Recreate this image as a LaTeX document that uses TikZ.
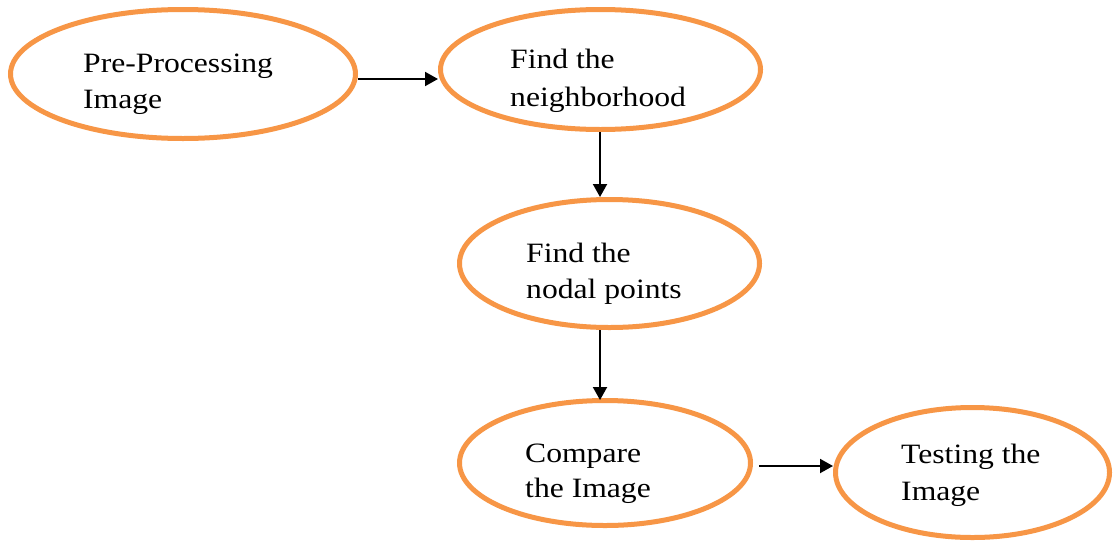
\documentclass[tikz,border=0pt]{standalone}
\usepackage{fontspec}
\usetikzlibrary{shapes.geometric,arrows.meta}
\newfontfamily\stagefont{Liberation Serif}[FakeStretch=1.13]
\definecolor{stageorange}{RGB}{247,150,70}
\begin{document}
\begin{tikzpicture}[x=1pt,y=-1pt,
  stage/.style={ellipse,draw=stageorange,line width=5pt,inner sep=0pt,fill=white},
  stagetext/.style={anchor=base west,inner sep=0pt,font=\stagefont\fontsize{28}{37}\selectfont,text=black},
  flow/.style={-{Triangle[length=13pt,width=14pt]},line width=2pt,black}]
  \useasboundingbox (0,0) rectangle (1115,544);

  % process stages
  \node[stage,minimum width=345pt,minimum height=129pt] (e1) at (183,74) {};
  \node[stage,minimum width=320pt,minimum height=120pt] (e2) at (600.5,69.5) {};
  \node[stage,minimum width=300pt,minimum height=128pt] (e3) at (609.5,263.5) {};
  \node[stage,minimum width=291pt,minimum height=125pt] (e4) at (605,463) {};
  \node[stage,minimum width=274pt,minimum height=130pt] (e5) at (972.5,472.5) {};

  % stage labels, one node per line
  \node[stagetext] (t1a) at (83,72) {Pre-Processing};
  \node[stagetext] (t1b) at (83,108) {Image};
  \node[stagetext] (t2a) at (510,68) {Find the};
  \node[stagetext] (t2b) at (510,106) {neighborhood};
  \node[stagetext] (t3a) at (526,262) {Find the};
  \node[stagetext] (t3b) at (526,298) {nodal points};
  \node[stagetext] (t4a) at (525,462) {Compare};
  \node[stagetext] (t4b) at (525,497) {the Image};
  \node[stagetext] (t5a) at (901,463) {Testing the};
  \node[stagetext] (t5b) at (901,500) {Image};

  % connectors
  \coordinate (row1) at (0,79);
  \coordinate (row4) at (0,466);
  \coordinate (col) at (600,0);
  \draw[flow] (e1.east |- row1) -- (e2.west |- row1);
  \draw[flow] (e2.south -| col) -- (e3.north -| col);
  \draw[flow] (e3.south -| col) -- ([yshift=-2pt]e4.north -| col);
  \draw[flow,shorten <=6pt] (e4.east |- row4) -- (e5.west |- row4);
\end{tikzpicture}
\end{document}
